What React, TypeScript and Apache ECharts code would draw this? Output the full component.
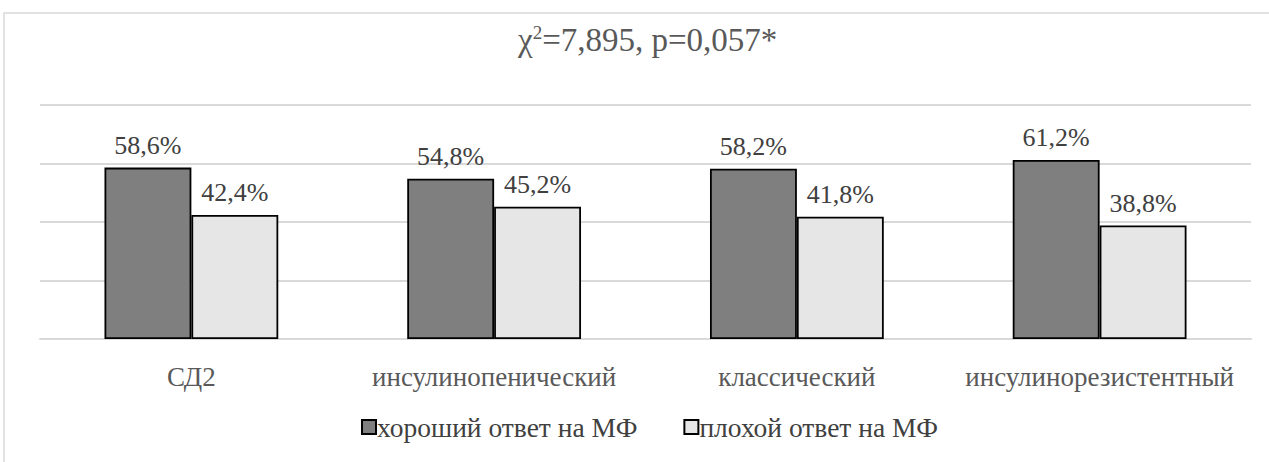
import React, { useEffect, useRef } from "react";
import * as echarts from "echarts";

const categories = ["СД2", "инсулинопенический", "классический", "инсулинорезистентный"];
const goodResponse = [58.6, 54.8, 58.2, 61.2];
const poorResponse = [42.4, 45.2, 41.8, 38.8];
const seriesNames = ["хороший ответ на МФ", "плохой ответ на МФ"];

const FONT = "Times New Roman, Liberation Serif, serif";
const fmt = (v: number) => v.toFixed(1).replace(".", ",") + "%";

export default function App() {
  const ref = useRef<HTMLDivElement>(null);
  useEffect(() => {
    if (!ref.current) return;
    const chart = echarts.init(ref.current, null, { renderer: "svg" });
    const label = {
      show: true,
      position: "top" as const,
      distance: 9,
      color: "#404040",
      fontFamily: FONT,
      fontSize: 26,
      formatter: (p: any) => fmt(p.value),
    };
    chart.setOption({
      animation: false,
      backgroundColor: "#ffffff",
      graphic: [
        {
          type: "rect",
          shape: { x: 4, y: 13, width: 1300, height: 500 },
          style: { fill: "none", stroke: "#d9d9d9", lineWidth: 1.5 },
          silent: true,
          z: -1,
        },
      ],
      title: {
        text: "χ{sup|2}=7,895, p=0,057*",
        left: 513,
        top: 18,
        textStyle: {
          fontFamily: FONT,
          fontSize: 33,
          fontWeight: "normal",
          color: "#595959",
          rich: {
            sup: { fontFamily: FONT, fontSize: 19, color: "#595959", verticalAlign: "bottom", padding: [0, 0, 14, 0] },
          },
        },
      },
      grid: { left: 40, right: 18, top: 105, bottom: 123 },
      legend: {
        bottom: 16,
        left: 356,
        itemWidth: 14,
        itemHeight: 14,
        itemGap: 46,
        icon: "rect",
        textStyle: { fontFamily: FONT, fontSize: 27.5, color: "#404040", padding: [0, 0, 0, -4] },
        data: seriesNames,
      },
      xAxis: {
        type: "category",
        data: categories,
        axisTick: { show: false },
        axisLine: { lineStyle: { color: "#d9d9d9", width: 2 } },
        axisLabel: { interval: 0, fontFamily: FONT, fontSize: 27, color: "#595959", margin: 24 },
      },
      yAxis: {
        type: "value",
        min: 0,
        max: 80,
        interval: 20,
        axisLabel: { show: false },
        axisLine: { show: false },
        axisTick: { show: false },
        splitLine: { lineStyle: { color: "#d9d9d9", width: 2 } },
      },
      series: [
        {
          name: seriesNames[0],
          type: "bar",
          data: goodResponse,
          barWidth: "28.7%",
          barGap: "0%",
          itemStyle: { color: "#7f7f7f", borderColor: "#000000", borderWidth: 1.8 },
          label,
        },
        {
          name: seriesNames[1],
          type: "bar",
          data: poorResponse,
          barWidth: "28.7%",
          barGap: "0%",
          itemStyle: { color: "#e6e6e6", borderColor: "#000000", borderWidth: 1.8 },
          label,
        },
      ],
    });
    return () => chart.dispose();
  }, []);
  return (
    <div
      ref={ref}
      style={{ position: "fixed", left: 0, top: 0, width: 1269, height: 462 }}
    />
  );
}
